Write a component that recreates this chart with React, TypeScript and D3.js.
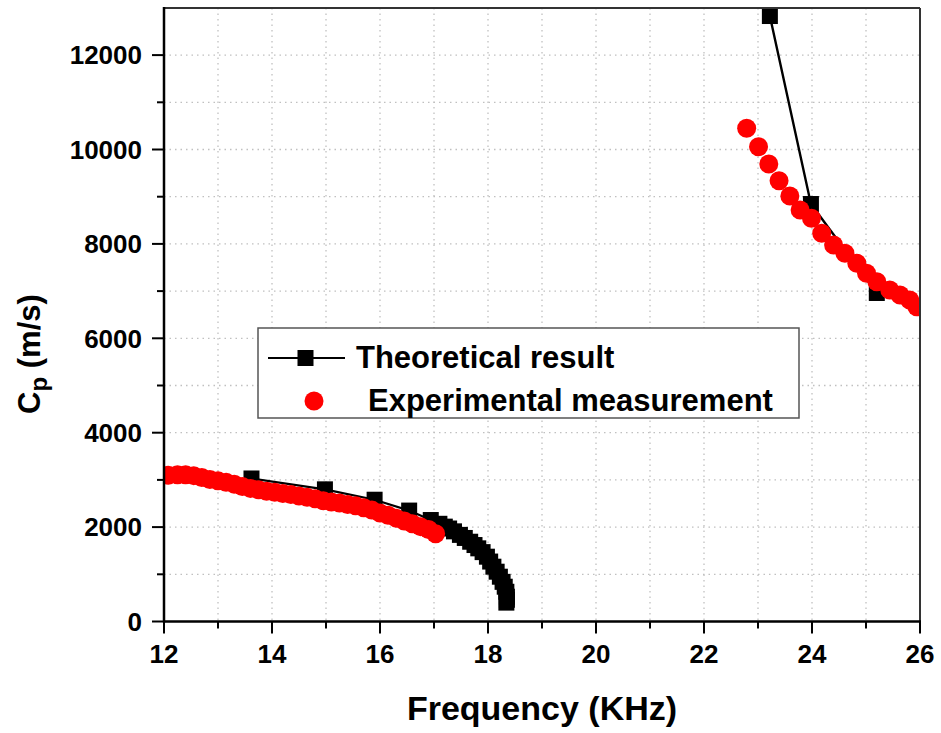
import React from "react";
import * as d3 from "d3";

const theoryLowF = [13.62, 14.98, 15.9, 16.54, 16.94, 17.1, 17.2, 17.28, 17.37, 17.48, 17.57, 17.67, 17.75, 17.82, 17.9, 17.98, 18.04, 18.1, 18.16, 18.22, 18.27, 18.31, 18.34, 18.35, 18.35, 18.34];
const theoryLowV = [3030, 2800, 2580, 2350, 2150, 2070, 2010, 1970, 1910, 1835, 1770, 1690, 1620, 1550, 1470, 1373, 1270, 1161, 1055, 949, 840, 737, 630, 525, 460, 400];
const theoryHighF = [23.22, 23.98, 25.2];
const theoryHighV = [12828, 8845, 6960];

const expLowF = [12.08, 12.25, 12.4, 12.55, 12.7, 12.85, 13.0, 13.15, 13.3, 13.45, 13.6, 13.75, 13.9, 14.05, 14.2, 14.35, 14.5, 14.65, 14.8, 14.95, 15.1, 15.25, 15.4, 15.55, 15.7, 15.85, 16.0, 16.15, 16.3, 16.45, 16.6, 16.75, 16.9, 17.03];
const expLowV = [3100, 3110, 3110, 3090, 3050, 3010, 2980, 2950, 2910, 2860, 2820, 2790, 2760, 2740, 2710, 2690, 2660, 2630, 2600, 2560, 2530, 2510, 2480, 2450, 2410, 2360, 2300, 2250, 2190, 2130, 2070, 2010, 1950, 1860];
const expHighF = [22.79, 23.01, 23.2, 23.39, 23.59, 23.78, 23.99, 24.18, 24.4, 24.61, 24.83, 25.01, 25.2, 25.44, 25.63, 25.81, 25.94];
const expHighV = [10449, 10059, 9693, 9339, 9015, 8718, 8542, 8225, 7977, 7801, 7589, 7377, 7199, 7023, 6917, 6811, 6669];

const xTicks = [12, 14, 16, 18, 20, 22, 24, 26];
const xMinor = [13, 15, 17, 19, 21, 23, 25];
const yTicks = [0, 2000, 4000, 6000, 8000, 10000, 12000];
const yMinor = [1000, 3000, 5000, 7000, 9000, 11000];
const xGrid = [13, 14, 15, 16, 17, 18, 19, 20, 21, 22, 23, 24, 25];
const yGrid = [1000, 2000, 3000, 4000, 5000, 6000, 7000, 8000, 9000, 10000, 11000, 12000];

const legendLabels = ["Theoretical result", "Experimental measurement"];

const W = 941, H = 733;
const L = 164, R = 920, T = 7.9, B = 621.5;
const FONT = "'Liberation Sans', Arial, sans-serif";

export default function App() {
  const x = d3.scaleLinear().domain([12, 26]).range([L, R]);
  const y = d3.scaleLinear().domain([0, 13000]).range([B, T]);
  const zip = (fs: number[], vs: number[]) => fs.map((f, i) => [f, vs[i]] as [number, number]);
  const line = d3.line<[number, number]>().x(d => x(d[0])).y(d => y(d[1]));
  const tLow = zip(theoryLowF, theoryLowV);
  const tHigh = zip(theoryHighF, theoryHighV);
  const eLow = zip(expLowF, expLowV);
  const eHigh = zip(expHighF, expHighV);
  const sq = 16, r = 9.5;

  return (
    <svg width={W} height={H} style={{ position: "absolute", left: 0, top: 0, background: "#fff" }} fontFamily={FONT}>
      <defs>
        <clipPath id="plot"><rect x={L} y={T - 2} width={R - L} height={B - T + 2} /></clipPath>
      </defs>
      {xGrid.map(g => (
        <line key={"xg" + g} x1={x(g)} x2={x(g)} y1={T} y2={B} stroke="#c0c0c0" strokeWidth={1.3} strokeDasharray="1.5,4" />
      ))}
      {yGrid.map(g => (
        <line key={"yg" + g} x1={L} x2={R} y1={y(g)} y2={y(g)} stroke="#c0c0c0" strokeWidth={1.3} strokeDasharray="1.5,4" />
      ))}
      <g clipPath="url(#plot)">
        <path d={line(tLow) || ""} fill="none" stroke="#000" strokeWidth={2.2} />
        <path d={line(tHigh) || ""} fill="none" stroke="#000" strokeWidth={2.4} />
        {tLow.concat(tHigh).map((d, i) => (
          <rect key={"s" + i} x={x(d[0]) - sq / 2} y={y(d[1]) - sq / 2} width={sq} height={sq} fill="#000" />
        ))}
        {eLow.concat(eHigh).map((d, i) => (
          <circle key={"c" + i} cx={x(d[0])} cy={y(d[1])} r={r} fill="#ff0000" />
        ))}
      </g>
      {/* frame */}
      <line x1={L} x2={R} y1={T} y2={T} stroke="#333" strokeWidth={2} />
      <line x1={R} x2={R} y1={T} y2={B} stroke="#333" strokeWidth={2} />
      <line x1={L} x2={R + 1} y1={B} y2={B} stroke="#000" strokeWidth={2.5} />
      <line x1={L} x2={L} y1={T - 1} y2={B + 1} stroke="#000" strokeWidth={2.5} />
      {/* x ticks */}
      {xTicks.map(t => (
        <g key={"xt" + t}>
          <line x1={x(t)} x2={x(t)} y1={B} y2={B + 12} stroke="#000" strokeWidth={2} />
          <text x={x(t)} y={663} textAnchor="middle" fontSize={26} fontWeight="bold">{t}</text>
        </g>
      ))}
      {xMinor.map(t => (
        <line key={"xm" + t} x1={x(t)} x2={x(t)} y1={B} y2={B + 7} stroke="#000" strokeWidth={2} />
      ))}
      {yTicks.map(t => (
        <g key={"yt" + t}>
          <line x1={L - 12} x2={L} y1={y(t)} y2={y(t)} stroke="#000" strokeWidth={2} />
          <text x={142} y={y(t) + 9.3} textAnchor="end" fontSize={26} fontWeight="bold">{t}</text>
        </g>
      ))}
      {yMinor.map(t => (
        <line key={"ym" + t} x1={L - 7} x2={L} y1={y(t)} y2={y(t)} stroke="#000" strokeWidth={2} />
      ))}
      {/* axis titles */}
      <text x={542} y={720} textAnchor="middle" fontSize={34} fontWeight="bold">Frequency (KHz)</text>
      <text transform="translate(40,354) rotate(-90)" textAnchor="middle" fontSize={31} fontWeight="bold">
        C<tspan fontSize={24} dy={7}>p</tspan><tspan dy={-7}> (m/s)</tspan>
      </text>
      {/* legend */}
      <rect x={258} y={328} width={541} height={90} fill="#fff" stroke="#555" strokeWidth={1.5} />
      <line x1={268} x2={345} y1={358} y2={358} stroke="#000" strokeWidth={2.2} />
      <rect x={305.5 - 8} y={358 - 8} width={16} height={16} fill="#000" />
      <text x={356} y={368} fontSize={31} fontWeight="bold">{legendLabels[0]}</text>
      <circle cx={314} cy={401} r={9.5} fill="#ff0000" />
      <text x={368} y={411} fontSize={31} fontWeight="bold">{legendLabels[1]}</text>
    </svg>
  );
}
